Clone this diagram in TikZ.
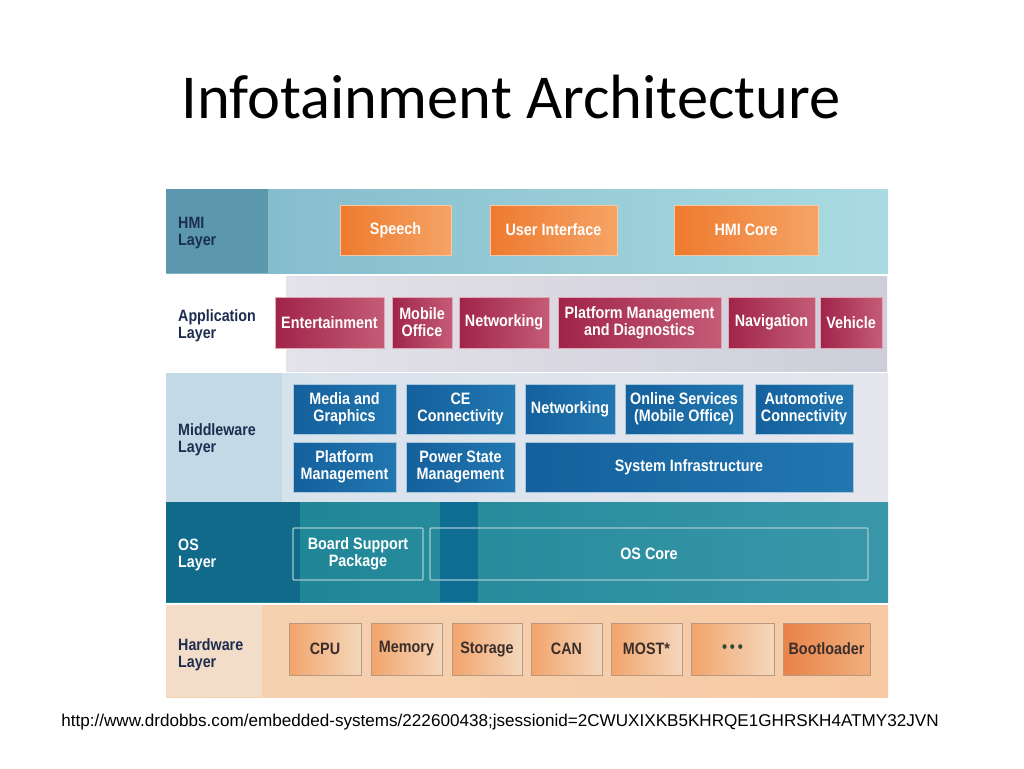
\documentclass[tikz,border=0pt]{standalone}
\usepackage{fontspec}
\setmainfont{Carlito}
\newfontfamily\lab[FakeStretch=0.87]{Liberation Sans}
\newfontfamily\urlfont{Liberation Sans}
\usetikzlibrary{shadows}
\definecolor{navy}{HTML}{1D2D50}
\definecolor{hwtext}{HTML}{3B2E2A}
\definecolor{hmiA}{HTML}{5B98AD}
\definecolor{hmiB}{HTML}{80B8C9}
\definecolor{hmiC}{HTML}{AADBE2}
\definecolor{appA}{HTML}{E4E2EA}
\definecolor{appB}{HTML}{CDCED9}
\definecolor{midA}{HTML}{C3D9E6}
\definecolor{midB}{HTML}{D4E2EC}
\definecolor{midC}{HTML}{E6E6EE}
\definecolor{osA}{HTML}{116A89}
\definecolor{osB}{HTML}{1A8393}
\definecolor{osS}{HTML}{0F6D94}
\definecolor{osC}{HTML}{3A97AA}
\definecolor{hwA}{HTML}{F4DDC8}
\definecolor{hwB}{HTML}{F5D2B2}
\definecolor{hwC}{HTML}{F7CAA4}
\definecolor{hmiboxA}{HTML}{EE7A2E}
\definecolor{hmiboxB}{HTML}{F5A466}
\definecolor{hmiedge}{HTML}{F8C9A2}
\definecolor{appboxA}{HTML}{A0244A}
\definecolor{appboxB}{HTML}{C45C76}
\definecolor{appedge}{HTML}{E3A8B6}
\definecolor{midboxA}{HTML}{14609C}
\definecolor{midboxB}{HTML}{2277B0}
\definecolor{midedge}{HTML}{A9C7DC}
\definecolor{osedge}{HTML}{9FC9CF}
\definecolor{hwboxA}{HTML}{F2A46C}
\definecolor{hwboxB}{HTML}{F4D8BC}
\definecolor{hwedge}{HTML}{B89880}
\definecolor{bootA}{HTML}{E8834A}
\definecolor{bootB}{HTML}{F0AE7C}
\definecolor{dotcol}{HTML}{2E4A3A}
\newcommand\boxat[6]{\node[#1, minimum width={#4-#3}, minimum height={#6-#5}] (#2) at ({(#3+#4)/2},{(#5+#6)/2})}
\tikzset{
  basebox/.style={inner sep=0pt, align=center, font=\lab\bfseries\fontsize{16.5}{17}\selectfont, line width=0.8pt,
     drop shadow={shadow xshift=1.3pt, shadow yshift=-1.3pt, fill=black, opacity=0.22}},
  hmibox/.style={basebox, left color=hmiboxA, right color=hmiboxB, text=white, draw=hmiedge},
  appbox/.style={basebox, left color=appboxA, right color=appboxB, text=white, draw=appedge},
  midbox/.style={basebox, left color=midboxA, right color=midboxB, text=white, draw=midedge},
  osbox/.style={inner sep=0pt, align=center, font=\lab\bfseries\fontsize{16.5}{17}\selectfont, draw=osedge, line width=1.4pt, rounded corners=1pt, text=white},
  hwbox/.style={basebox, left color=hwboxA, right color=hwboxB, text=hwtext, draw=hwedge},
  bootbox/.style={hwbox, left color=bootA, right color=bootB},
  layerlab/.style={anchor=west, inner sep=0pt, align=left, font=\lab\bfseries\fontsize{16.4}{17}\selectfont, text=navy},
}
\begin{document}
\begin{tikzpicture}[x=1pt,y=-1pt]
\useasboundingbox (0,0) rectangle (1024,768);
\fill[white] (0,0) rectangle (1024,768);
% title
\node[font=\fontsize{62.5}{70}\selectfont, inner sep=0pt] (title) at (511,97) {Infotainment Architecture};
% ---------------- layer bands
% HMI
\fill[left color=hmiB, right color=hmiC] (166,189) rectangle (888,273);
\fill[hmiA] (166,189) rectangle (268,273);
% Application
\fill[white] (166,276) rectangle (888,371);
\fill[left color=appA, right color=appB] (286,276) rectangle (887,371);
% Middleware
\fill[left color=midB, right color=midC] (166,373) rectangle (888,502);
\fill[midA] (166,373) rectangle (282,502);
% OS
\fill[left color=osB, right color=osC] (166,502) rectangle (888,602);
\fill[osA] (166,502) rectangle (300,602);
\fill[osS] (440,502) rectangle (478,602);
% Hardware
\fill[left color=hwB, right color=hwC] (166,605) rectangle (888,697);
\fill[hwA] (166,605) rectangle (262,697);
% ---------------- layer labels
\node[layerlab] (lhmi) at (178,233) {HMI\\Layer};
\node[layerlab] (lapp) at (178,326) {Application\\Layer};
\node[layerlab] (lmid) at (178,440) {Middleware\\Layer};
\node[layerlab, text=white] (los) at (178,555) {OS\\Layer};
\node[layerlab] (lhw) at (178,655) {Hardware\\Layer};
% ---------------- HMI boxes
\boxat{hmibox}{speech}{340}{451}{205}{255}{Speech};
\boxat{hmibox}{ui}{490}{617}{205}{255}{User Interface};
\boxat{hmibox}{hmicore}{674}{818}{205}{255}{HMI Core};
% ---------------- Application boxes
\boxat{appbox}{ent}{275}{384}{297}{348}{Entertainment};
\boxat{appbox}{mob}{392}{452}{297}{348}{Mobile\\Office};
\boxat{appbox}{appnet}{459}{549}{297}{348}{Networking};
\boxat{appbox}{pmd}{558}{721}{297}{348}{Platform Management\\and Diagnostics};
\boxat{appbox}{nav}{728}{815}{297}{348}{Navigation};
\boxat{appbox}{veh}{820}{882}{297}{348}{Vehicle};
% ---------------- Middleware boxes
\boxat{midbox}{media}{293}{396}{384}{434}{Media and\\Graphics};
\boxat{midbox}{ce}{406}{515}{384}{434}{CE\\Connectivity};
\boxat{midbox}{midnet}{525}{615}{384}{434}{Networking};
\boxat{midbox}{online}{625}{743}{384}{434}{Online Services\\(Mobile Office)};
\boxat{midbox}{auto}{755}{853}{384}{434}{Automotive\\Connectivity};
\boxat{midbox}{pm}{293}{396}{442}{492}{Platform\\Management};
\boxat{midbox}{psm}{406}{515}{442}{492}{Power State\\Management};
\boxat{midbox}{sysinf}{525}{853}{442}{492}{System Infrastructure};
% ---------------- OS boxes
\boxat{osbox}{bsp}{293}{423}{528}{580}{Board Support\\Package};
\boxat{osbox}{oscore}{430}{868}{528}{580}{OS Core};
% ---------------- Hardware boxes
\boxat{hwbox}{cpu}{289}{361}{623}{675}{CPU};
\boxat{hwbox}{mem}{371}{442}{623}{675}{Memory};
\boxat{hwbox}{stor}{452}{522}{623}{675}{Storage};
\boxat{hwbox}{can}{531}{602}{623}{675}{CAN};
\boxat{hwbox}{most}{611}{682}{623}{675}{MOST*};
\boxat{hwbox}{dots}{691}{774}{623}{675}{\textcolor{dotcol}{•\,•\,•}};
\boxat{bootbox}{boot}{783}{870}{623}{675}{Bootloader};
% ---------------- source
\node[font=\urlfont\fontsize{17.1}{19}\selectfont, inner sep=0pt] (url) at (500,722) {http://www.drdobbs.com/embedded-systems/222600438;jsessionid=2CWUXIXKB5KHRQE1GHRSKH4ATMY32JVN};
\end{tikzpicture}
\end{document}
